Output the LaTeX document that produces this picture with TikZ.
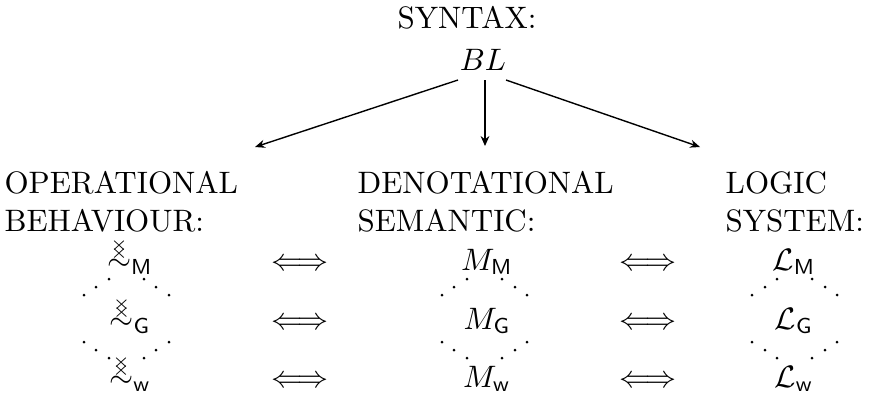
\documentclass[tikz,border=0pt]{standalone}
\usepackage{amsmath,amssymb,graphicx}
\usetikzlibrary{arrows.meta}
\newcommand{\xcross}{\scalebox{1.1}[1.0]{$\scriptscriptstyle\times$}}
\newcommand{\bisimrel}{\mathrel{\ooalign{$\sim$\cr\hidewidth\raisebox{4.2pt}{\xcross}\hidewidth\cr\hidewidth\raisebox{6.5pt}{\xcross}\hidewidth\cr}}}
\tikzset{
  lbl/.style={inner sep=0pt, anchor=base west},
  ent/.style={inner sep=0pt, anchor=base},
  dotmark/.style={fill=black},
  thinarr/.style={-{Stealth[length=3.2pt,width=2.6pt]}, line width=0.45pt},
  thickarr/.style={-{Stealth[length=3.2pt,width=2.8pt]}, line width=0.9pt}
}
\begin{document}
\begin{tikzpicture}[x=0.3226pt,y=-0.3226pt]
\useasboundingbox (0,0) rectangle (869,398);
% top
\node[ent] (syn) at (467,28) {SYNTAX:};
\node[ent] (bl) at (483,70) {$BL$};
% headers
\node[lbl] (op1) at (4,193) {OPERATIONAL};
\node[lbl] (op2) at (4,231) {BEHAVIOUR:};
\node[lbl] (de1) at (357,193) {DENOTATIONAL};
\node[lbl] (de2) at (357,231) {SEMANTIC:};
\node[lbl] (lo1) at (725,193) {LOGIC};
\node[lbl] (lo2) at (725,231) {SYSTEM:};
% arrow ends
\coordinate (sL) at (458,80);
\coordinate (sM) at (485,80);
\coordinate (sR) at (506,80);
\coordinate (eL) at (255,147);
\coordinate (eM) at (485,146);
\coordinate (eR) at (700,147);
\draw[thinarr] (sL) -- (eL);
\draw[thickarr] (sM) -- (eM);
\draw[thinarr] (sR) -- (eR);
% rows
\foreach \r/\s/\y in {1/M/270,2/G/329,3/w/387}{
  \node[ent] (a\r) at (130,\y) {$\bisimrel_{\mathsf{\s}}$};
  \node[ent] (i\r) at (300,\y) {$\Longleftrightarrow$};
  \node[ent] (m\r) at (487,\y) {$M_{\mathsf{\s}}$};
  \node[ent] (j\r) at (648,\y) {$\Longleftrightarrow$};
  \node[ent] (l\r) at (794,\y) {$\mathcal{L}_{\mathsf{\s}}$};
}
% dots
\foreach \xa/\xb/\xc/\xd/\xe/\xf in {84/96/109/144/156/169, 442/454/467/502/515/527, 752/765/777/812/825/837}{
  \fill[dotmark] (\xa,295) circle[radius=1.5];
  \fill[dotmark] (\xb,287) circle[radius=1.5];
  \fill[dotmark] (\xc,279) circle[radius=1.5];
  \fill[dotmark] (\xd,279) circle[radius=1.5];
  \fill[dotmark] (\xe,287) circle[radius=1.5];
  \fill[dotmark] (\xf,295) circle[radius=1.5];
  \fill[dotmark] (\xa,342) circle[radius=1.5];
  \fill[dotmark] (\xb,350) circle[radius=1.5];
  \fill[dotmark] (\xc,358) circle[radius=1.5];
  \fill[dotmark] (\xd,358) circle[radius=1.5];
  \fill[dotmark] (\xe,350) circle[radius=1.5];
  \fill[dotmark] (\xf,342) circle[radius=1.5];
}
\end{tikzpicture}
\end{document}
